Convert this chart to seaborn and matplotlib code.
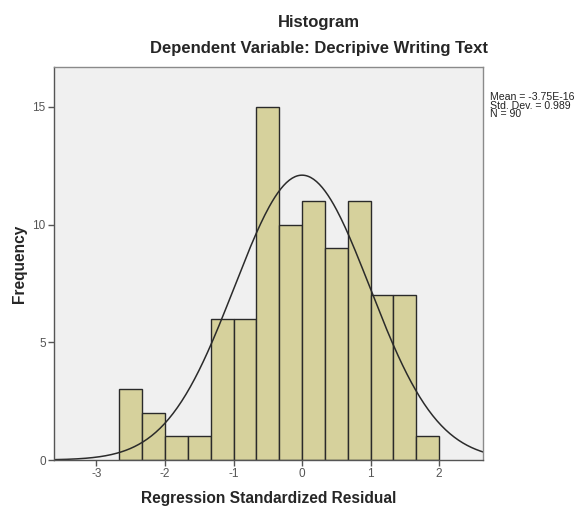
import numpy as np
import pandas as pd
import matplotlib
matplotlib.use('Agg')
import matplotlib.pyplot as plt
import seaborn as sns

# Histogram of regression standardized residuals (bins of width 1/3)
bin_edges = [-8/3, -7/3, -2, -5/3, -4/3, -1, -2/3, -1/3, 0, 1/3, 2/3, 1, 4/3, 5/3, 2]
counts = [3, 2, 1, 1, 6, 6, 15, 10, 11, 9, 11, 7, 7, 1]
x_ticks = [-3, -2, -1, 0, 1, 2]
y_ticks = [0, 5, 10, 15]
res_mean = -3.75e-16
res_sd = 0.989
res_n = 90

sns.set_style('white')
plt.rcParams['font.family'] = ['Liberation Sans', 'DejaVu Sans']
plt.rcParams['axes.unicode_minus'] = False

edges = np.array(bin_edges)
df = pd.DataFrame({'resid': (edges[:-1] + edges[1:]) / 2, 'count': counts})

fig = plt.figure(figsize=(5.77, 5.07), dpi=100)
ax = fig.add_axes([0.0936, 0.0927, 0.7434, 0.7753])
ax.set_facecolor('#f0f0f0')

sns.histplot(data=df, x='resid', weights='count', bins=list(bin_edges), ax=ax,
             color='#d6d19c', alpha=1, edgecolor='#2a2a2a', linewidth=1.0)

# normal curve using the reported mean, sd and N
width = edges[1] - edges[0]
xs = np.linspace(-3.62, 2.64, 300)
ys = res_n * width / (res_sd * np.sqrt(2 * np.pi)) * np.exp(-0.5 * ((xs - res_mean) / res_sd) ** 2)
sns.lineplot(x=xs, y=ys, ax=ax, color='#2b2b2b', linewidth=1.1)

ax.set_xlim(-3.62, 2.64)
ax.set_ylim(0, 16.7)
ax.set_xticks(x_ticks)
ax.set_yticks(y_ticks)
ax.tick_params(direction='out', length=4, width=1, color='#555555',
               labelsize=8.5, labelcolor='#555555', pad=2)
ax.tick_params(axis='both', which='both', bottom=True, left=True)
for s in ax.spines.values():
    s.set_color('#8a8a8a')
    s.set_linewidth(1)
ax.spines['left'].set_color('#555555')
ax.spines['bottom'].set_color('#555555')

ax.set_xlabel('Regression Standardized Residual', fontsize=11.2, fontweight='bold', labelpad=8)
ax.set_ylabel('Frequency', fontsize=11.2, fontweight='bold', labelpad=4)

fig.text(0.553, 0.955, 'Histogram', ha='center', va='center', fontsize=12, fontweight='bold')
fig.text(0.553, 0.905, 'Dependent Variable: Decripive Writing Text', ha='center', va='center',
         fontsize=12, fontweight='bold')
fig.text(0.849, 0.818, 'Mean = -3.75E-16\nStd. Dev. = 0.989\nN = 90', ha='left', va='top',
         fontsize=7.6, linespacing=0.82, color='#222222')

fig.savefig('out.png', dpi=100)
